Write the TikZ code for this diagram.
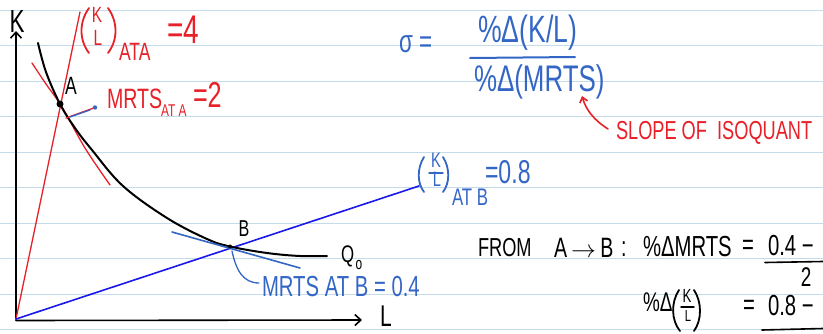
\documentclass[tikz,border=0pt]{standalone}
\usepackage{fontspec}
\setmainfont{Liberation Sans}[FakeStretch=0.7]
\usetikzlibrary{arrows.meta}
\definecolor{rulecol}{RGB}{196,220,234}
\definecolor{penblue}{RGB}{52,102,198}
\definecolor{lineblue}{RGB}{25,25,235}
\definecolor{penred}{RGB}{232,32,40}
\newcommand{\fs}[1]{\fontsize{#1}{#1}\selectfont}
\begin{document}
\begin{tikzpicture}[x=1pt,y=-1pt,line cap=round,line join=round,
  rule/.style={rulecol,line width=1pt},
  axis/.style={black,line width=1.6pt,-{Straight Barb[length=6pt,width=11pt,line width=1.6pt]}},
  lbl/.style={inner sep=0pt,outer sep=0pt},
  bl/.style={lbl,text=penblue},
  rd/.style={lbl,text=penred},
  bk/.style={lbl,text=black},
  tight/.style={text height=0.72em,text depth=0pt},
  redline/.style={penred,line width=1.3pt},
  blueline/.style={penblue,line width=1.6pt},
  paren/.style={line width=1.8pt}]
\useasboundingbox (0,0) rectangle (823,333);
\fill[white] (0,0) rectangle (823,333);
\foreach \y in {10,45.5,81,116.5,152,187.5,223,258.5,294,329.5}
  \draw[rule] (0,\y) -- (823,\y);

% axes
\coordinate (O) at (16,319);
\coordinate (ytop) at (16,31);
\coordinate (xend) at (362,320);
\draw[axis] (O) -- (ytop);
\draw[axis] (16,320.5) -- (xend);
\node[bk,font=\fs{32}] (Klab) at (17,21) {K};
\node[bk,font=\fs{30}] (Llab) at (386,316) {L};

% rays
\coordinate (Rtop) at (80,12);
\coordinate (Bend) at (419,186);
\draw[redline] (O) -- (Rtop);
\draw[lineblue,line width=1.6pt] (O) -- (Bend);

% points
\coordinate (A) at (60,104);
\coordinate (B) at (230,246.5);

% red tangent at A
\draw[redline] plot[smooth,tension=0.6] coordinates {(32,63) (46,84) (62,107) (85,148) (110,185)};
% isoquant
\draw[black,line width=2pt] plot[smooth,tension=0.6] coordinates
  {(38,43) (46,72) (60,104) (75,128) (92,150) (123,186) (167,218) (207,239) (230,246.5) (267,253) (300,256) (327,256)};
% blue tangent at B
\draw[blueline] (172,232) -- (300,268);

\fill[black] (A) circle (3.5pt);
\fill[black] (B) circle (2pt);

% small arrow at A
\draw[redline] (66,118) -- (95,107.5);
\draw[penblue,line width=1.3pt] (70,117) -- (90,110);
\fill[penblue] (95,107.5) circle (2.2pt);

% blue hook at B
\draw[penblue,line width=1.3pt] (232,251) .. controls (236,270) and (243,283) .. (259,283);

% labels near curve
\node[bk,font=\fs{25}] (Alab) at (71,86) {A};
\node[bk,font=\fs{23}] (Blab) at (244,229) {B};
\node[bk,font=\fs{24},anchor=west] (Qlab) at (341,256) {Q};
\node[bk,font=\fs{17}] (Qsub) at (359,265) {o};

% (K/L) at A
\node[rd,tight,font=\fs{22}] (klAK) at (97,19) {K};
\node[rd,tight,font=\fs{22}] (klAL) at (98,42) {L};
\draw[penred,paren] (89,8) .. controls (79,22) and (79,40) .. (89,53);
\draw[penred,paren] (108,8) .. controls (118,22) and (118,40) .. (108,53);
\node[rd,font=\fs{25},anchor=west] (klAsub) at (119,52) {ATA};
\node[rd,font=\fs{40},anchor=west] (klAval) at (167,30) {=4};
% MRTS at A
\node[rd,font=\fs{28},anchor=west] (mA) at (107,99) {MRTS};
\node[rd,font=\fs{17},anchor=west] (mAsub) at (161,111) {AT A};
\node[rd,font=\fs{36},anchor=west] (mAval) at (193,95) {=2};

% sigma formula
\node[bl,font=\fs{32},anchor=west] (sig) at (399,44) {σ =};
\node[bl,font=\fs{38},anchor=west] (num) at (478,33) {\%Δ(K/L)};
\draw[penblue,line width=2pt] (470,58) -- (575,57);
\node[bl,font=\fs{37},anchor=west] (den) at (474,82) {\%Δ(MRTS)};

% slope note
\node[rd,font=\fs{26},anchor=west] (slope) at (616,133) {SLOPE OF\ \ ISOQUANT};
\draw[penred,line width=1.6pt,-{Straight Barb[length=5pt,width=8pt,line width=1.6pt]}]
  (slope.west) ++(-8,-4) .. controls (594,120) and (586,110) .. (582,96);

% (K/L) at B
\node[bl,tight,font=\fs{21}] (klBK) at (436,164) {K};
\draw[penblue,line width=1.4pt] (429,173) -- (443,173);
\node[bl,tight,font=\fs{21}] (klBL) at (437,183) {L};
\draw[penblue,paren] (424,157) .. controls (417,168) and (417,183) .. (424,192);
\draw[penblue,paren] (443,157) .. controls (450,168) and (450,183) .. (443,192);
\node[bl,font=\fs{24},anchor=west] (klBsub) at (452,197) {AT B};
\node[bl,font=\fs{33},anchor=west] (klBval) at (485,172) {=0.8};

% MRTS at B
\node[bl,font=\fs{29},anchor=west] (mB) at (262,287) {MRTS AT B = 0.4};

% FROM line
\node[bk,font=\fs{26},anchor=west] (from) at (478,248) {FROM};
\node[bk,font=\fs{28},anchor=west] (ab) at (554,248) {A$\,\rightarrow\,$B};
\node[bk,font=\fs{28},anchor=west] (colon) at (621,249) {:};
\node[bk,font=\fs{29},anchor=west] (pm) at (643,247) {\%ΔMRTS};
\node[bk,font=\fs{29},anchor=west] (eq1) at (742,247) {=};
\node[bk,font=\fs{29},anchor=west] (n1) at (768,246) {0.4 −};
\draw[black,line width=1.6pt] (765,262.5) -- (823,261.5);
\node[bk,font=\fs{27}] (d1) at (806,277) {2};

% second line
\node[bk,font=\fs{27},anchor=west] (pk) at (643,302) {\%Δ};
\node[bk,tight,font=\fs{19}] (pkK) at (687,299) {K};
\draw[black,line width=1.4pt] (681,307) -- (694,307);
\node[bk,tight,font=\fs{16}] (pkL) at (688,318) {L};
\draw[black,paren] (679,290) .. controls (671,302) and (671,320) .. (680,331);
\draw[black,paren] (694,290) .. controls (702,302) and (702,320) .. (694,331);
\node[bk,font=\fs{29},anchor=west] (eq2) at (743,307) {=};
\node[bk,font=\fs{29},anchor=west] (n2) at (768,306) {0.8 −};
\draw[black,line width=1.6pt] (762,330) -- (823,328.5);
\end{tikzpicture}
\end{document}
